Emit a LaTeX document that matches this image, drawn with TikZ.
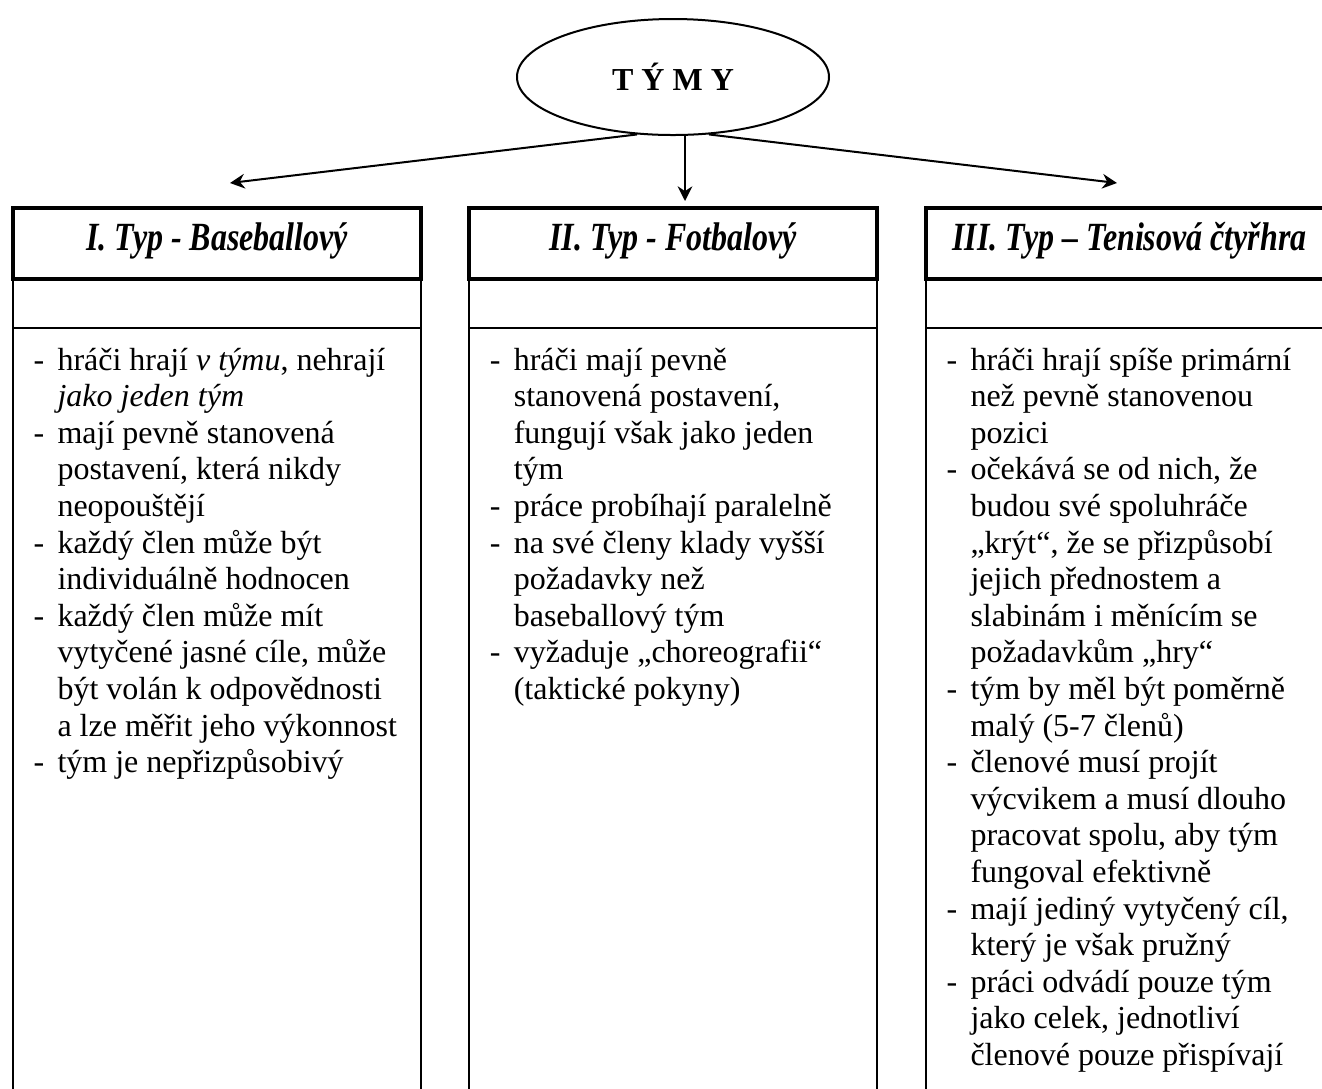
\documentclass[tikz,border=0pt]{standalone}
\usepackage{fontspec}
\usepackage{graphicx}
\setmainfont{Liberation Serif}
\usetikzlibrary{arrows.meta,shapes.geometric}

% hanging dash in front of a list entry
\newcommand{\dsh}{\llap{\makebox[9pt][l]{-}}}
% column heading: tall bold italic, slightly condensed
\newcommand{\hdrtext}[1]{\scalebox{0.8}[1]{\fontsize{15}{18}\selectfont\bfseries\itshape #1}}

\tikzset{
  thinrule/.style={line width=0.75pt},
  arr/.style={line width=0.75pt, -{Stealth[length=5.5pt,width=5.5pt,inset=1.8pt]}},
  hdr/.style={draw, line width=1.5pt, minimum width=153pt, minimum height=26.6pt,
              inner sep=0pt, text height=10pt, text depth=5pt},
  txtline/.style={anchor=base west, inner sep=0pt, font=\fontsize{12}{14}\selectfont},
}

\begin{document}
\begin{tikzpicture}[x=0.375pt, y=-0.375pt]
\useasboundingbox (0,0) rectangle (1322,1088);
\clip (0,0) rectangle (1322,1088);

% top node
\node[ellipse, draw, line width=0.75pt, minimum width=117pt, minimum height=43.5pt,
      inner sep=0pt, font=\fontsize{12}{14}\selectfont\bfseries] (tymy) at (673,77) {T Ý M Y};

% arrows to the three team types
\coordinate (lt) at (230,183);
\coordinate (rt) at (1117,183);
\coordinate (mt) at (685,201);
\draw[arr] (tymy.-122) -- (lt);
\draw[arr] (mt |- tymy.south) -- (mt);
\draw[arr] (tymy.-58) -- (rt);

% column bodies
\draw[thinrule] (13,279) rectangle (421,1110);
\draw[thinrule] (13,327.7) -- (421,327.7);
\draw[thinrule] (469.3,279) rectangle (876.7,1110);
\draw[thinrule] (469.3,327.7) -- (876.7,327.7);
\draw[thinrule] (926,279) rectangle (1340,1110);
\draw[thinrule] (926,327.7) -- (1340,327.7);

% column headings
\node[hdr] (h1) at (217.2,243.5) {\hdrtext{I. Typ - Baseballový}};
\node[hdr] (h2) at (673,243.5) {\hdrtext{II. Typ - Fotbalový}};
\node[hdr] (h3) at (1129.5,243.5) {\hdrtext{III. Typ – Tenisová čtyřhra}};

% column I
\foreach \t [count=\i] in {
  {\dsh hráči hrají \textit{v týmu}, nehrají},
  {\textit{jako jeden tým}},
  {\dsh mají pevně stanovená},
  {postavení, která nikdy},
  {neopouštějí},
  {\dsh každý člen může být},
  {individuálně hodnocen},
  {\dsh každý člen může mít},
  {vytyčené jasné cíle, může},
  {být volán k odpovědnosti},
  {a lze měřit jeho výkonnost},
  {\dsh tým je nepřizpůsobivý}}
  \node[txtline] (a\i) at (57,{370+36.6*(\i-1)}) {\t};

% column II
\foreach \t [count=\i] in {
  {\dsh hráči mají pevně},
  {stanovená postavení,},
  {fungují však jako jeden},
  {tým},
  {\dsh práce probíhají paralelně},
  {\dsh na své členy klady vyšší},
  {požadavky než},
  {baseballový tým},
  {\dsh vyžaduje „choreografii“},
  {(taktické pokyny)}}
  \node[txtline] (b\i) at (513.3,{370+36.6*(\i-1)}) {\t};

% column III
\foreach \t [count=\i] in {
  {\dsh hráči hrají spíše primární},
  {než pevně stanovenou},
  {pozici},
  {\dsh očekává se od nich, že},
  {budou své spoluhráče},
  {„krýt“, že se přizpůsobí},
  {jejich přednostem a},
  {slabinám i měnícím se},
  {požadavkům „hry“},
  {\dsh tým by měl být poměrně},
  {malý (5-7 členů)},
  {\dsh členové musí projít},
  {výcvikem a musí dlouho},
  {pracovat spolu, aby tým},
  {fungoval efektivně},
  {\dsh mají jediný vytyčený cíl,},
  {který je však pružný},
  {\dsh práci odvádí pouze tým},
  {jako celek, jednotliví},
  {členové pouze přispívají}}
  \node[txtline] (c\i) at (970,{370+36.6*(\i-1)}) {\t};
\end{tikzpicture}
\end{document}
